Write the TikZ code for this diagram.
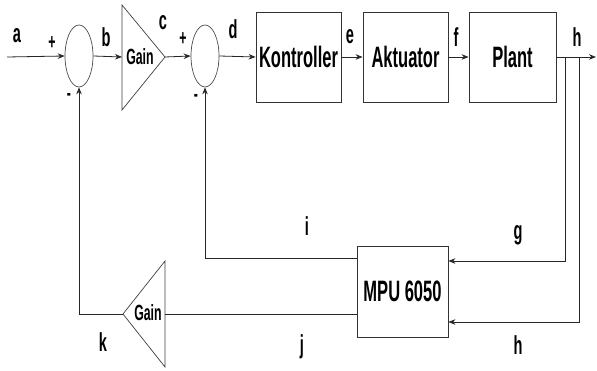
\documentclass[tikz,border=0pt]{standalone}
\usepackage{fontspec}
\setmainfont{Liberation Sans}[FakeStretch=0.56]
\usetikzlibrary{shapes.geometric,arrows.meta}
\begin{document}
\begin{tikzpicture}[x=1pt,y=-1pt,
  ln/.style={line width=0.8pt, draw=black!85},
  arr/.style={ln, -{Stealth[length=7pt,width=5.5pt]}},
  sumj/.style={ellipse, draw=black!70, line width=0.7pt, minimum width=28pt, minimum height=62pt, inner sep=0pt},
  blk/.style={draw=black!80, line width=0.8pt, minimum width=86pt, minimum height=90pt, inner sep=0pt, font=\fontsize{29.5}{32}\selectfont\bfseries},
  lbl/.style={font=\fontsize{26}{28}\selectfont\bfseries, inner sep=0pt},
  sgn/.style={font=\fontsize{22}{24}\selectfont\bfseries, inner sep=0pt},
  gaintxt/.style={font=\fontsize{22}{24}\selectfont\bfseries, inner sep=0pt},
  tri/.style={draw=black!75, line width=0.7pt}
]
\fill[white] (0,0) rectangle (597,371);
\useasboundingbox (0,0) rectangle (597,371);

% summing junctions
\node[sumj] (j1) at (79,56) {};
\node[sumj] (j2) at (205,56) {};

% gain triangles
\draw[tri] (122,5) -- (122,110) -- (165,57) -- cycle;
\coordinate (g1in) at (122,57);
\coordinate (g1out) at (165,57);
\node[gaintxt] (g1t) at (140,57) {Gain};

\draw[tri] (165,261) -- (165,367) -- (123,314) -- cycle;
\coordinate (g2in) at (165,314);
\coordinate (g2out) at (123,314);
\node[gaintxt] (g2t) at (148,313) {Gain};

% blocks
\node[blk, minimum width=85pt] (kon) at (298.5,57) {Kontroller};
\node[blk, minimum width=85pt] (akt) at (405.5,57) {Aktuator};
\node[blk, minimum width=87pt] (pla) at (512.5,57) {Plant};
\node[blk, minimum width=91pt, minimum height=91pt] (mpu) at (402.5,291.5) {MPU 6050};

% input / output
\coordinate (in) at (7,57);
\coordinate (out) at (596,57);
\coordinate (br1) at (565,57);
\coordinate (br2) at (579,57);

% forward path
\draw[arr] (in) -- (j1.west);
\draw[arr] (j1.east) -- (g1in);
\draw[arr] (g1out) -- (j2.west);
\draw[arr] (j2.east) -- (kon.west);
\draw[arr] (kon.east) -- (akt.west);
\draw[arr] (akt.east) -- (pla.west);
\draw[arr] (pla.east) -- (out);

% feedback
\draw[arr] (br1) |- ([yshift=30.5pt]mpu.east);
\draw[arr] (br2) |- ([yshift=-30.5pt]mpu.east);
\draw[arr] ([yshift=33.5pt]mpu.west) -| (j2.south);
\draw[ln] ([yshift=-22.5pt]mpu.west) -- (g2in);
\draw[arr] (g2out) -| (j1.south);

% labels
\node[lbl] (la) at (17,36) {a};
\node[sgn] (p1) at (52,43) {+};
\node[sgn] (m1) at (69,97) {-};
\node[lbl] (lb) at (106,37) {b};
\node[lbl] (lc) at (163,23) {c};
\node[sgn] (p2) at (183,39) {+};
\node[sgn] (m2) at (196,98) {-};
\node[lbl] (ld) at (233,29) {d};
\node[lbl] (le) at (350,37) {e};
\node[lbl] (lf) at (456,37) {f};
\node[lbl] (lh1) at (577,37) {h};
\node[lbl] (lg) at (518,235) {g};
\node[lbl] (lh2) at (518,345) {h};
\node[lbl] (li) at (307,226) {i};
\node[lbl] (lj) at (302,347) {j};
\node[lbl] (lk) at (103,342) {k};
\end{tikzpicture}
\end{document}
